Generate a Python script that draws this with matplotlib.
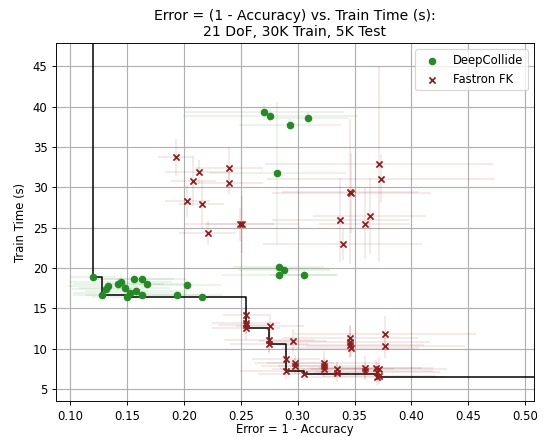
import numpy as np
import matplotlib
matplotlib.use("Agg")
import matplotlib.pyplot as plt

# DeepCollide runs: error, train time, and their spreads
dc_err = [0.2708, 0.2761, 0.2930, 0.3091, 0.2822, 0.2835, 0.2883, 0.2835, 0.3059,
          0.1202, 0.1278, 0.1313, 0.1331, 0.1424, 0.1442, 0.1477, 0.1495, 0.1524,
          0.1561, 0.1576, 0.1629, 0.1629, 0.1679, 0.1939, 0.2026, 0.2158]
dc_time = [39.28, 38.86, 37.71, 38.58, 31.73, 20.14, 19.77, 19.15, 19.15,
           18.86, 16.63, 17.38, 17.75, 18.03, 18.24, 17.54, 16.39, 16.96,
           18.61, 17.21, 18.61, 16.71, 18.07, 16.71, 17.91, 16.46]
dc_err_sd = [0.070, 0.077, 0.045, 0.035, 0.060, 0.040, 0.040, 0.050, 0.030,
             0.020, 0.025, 0.030, 0.035, 0.040, 0.045, 0.040, 0.030, 0.050,
             0.035, 0.045, 0.040, 0.050, 0.035, 0.040, 0.030, 0.035]
dc_time_sd = [1.0, 0.8, 0.8, 0.8, 8.8, 0.5, 0.5, 0.6, 0.6,
              0.5, 0.5, 0.6, 0.6, 0.8, 0.8, 0.6, 0.5, 0.6,
              0.7, 0.6, 0.6, 0.5, 0.6, 0.5, 0.6, 0.5]

# Fastron FK runs
ff_err = [0.1930, 0.2135, 0.2082, 0.2395, 0.2392, 0.2030, 0.2155, 0.2208, 0.2489, 0.2509,
          0.3717, 0.3732, 0.3460, 0.3471, 0.3375, 0.3632, 0.3588, 0.3395,
          0.2547, 0.2547, 0.2547, 0.2547, 0.2758, 0.2752, 0.2752, 0.2962,
          0.2895, 0.2895, 0.2974, 0.2974, 0.3053, 0.3228, 0.3228, 0.3228,
          0.3345, 0.3345, 0.3458, 0.3460, 0.3462, 0.3465, 0.3594, 0.3594,
          0.3688, 0.3717, 0.3700, 0.3717, 0.3702, 0.3769, 0.3769]
ff_time = [33.71, 31.93, 30.74, 32.43, 30.57, 28.30, 27.90, 24.34, 25.40, 25.40,
           32.88, 31.03, 29.46, 29.30, 25.91, 26.41, 25.50, 22.95,
           14.15, 13.20, 12.90, 12.60, 12.87, 11.10, 10.60, 11.00,
           8.80, 7.30, 8.30, 7.85, 6.86, 8.30, 7.90, 7.50,
           7.50, 7.05, 11.30, 10.90, 10.50, 10.15, 7.60, 7.30,
           7.60, 7.45, 7.15, 6.70, 6.52, 11.90, 10.40]
ff_err_sd = [0.016, 0.030, 0.020, 0.030, 0.030, 0.020, 0.020, 0.025, 0.030, 0.050,
             0.100, 0.100, 0.060, 0.070, 0.060, 0.050, 0.040, 0.070,
             0.020, 0.030, 0.025, 0.030, 0.030, 0.040, 0.035, 0.030,
             0.030, 0.040, 0.035, 0.030, 0.040, 0.050, 0.040, 0.045,
             0.050, 0.040, 0.060, 0.070, 0.065, 0.060, 0.050, 0.060,
             0.050, 0.060, 0.055, 0.050, 0.060, 0.080, 0.070]
ff_time_sd = [2.3, 1.5, 3.0, 2.5, 1.5, 2.0, 3.0, 1.5, 2.0, 3.5,
              12.0, 3.0, 9.0, 5.0, 5.2, 4.7, 4.4, 2.0,
              1.0, 1.2, 1.0, 1.5, 1.5, 1.5, 1.2, 1.5,
              1.2, 1.0, 1.0, 1.0, 0.8, 1.5, 1.0, 1.0,
              1.0, 1.2, 1.5, 2.0, 1.5, 1.0, 1.5, 1.0,
              1.0, 1.5, 1.2, 1.0, 1.0, 2.2, 1.5]

green = "#228b22"
red = "#921c1c"

fig = plt.figure(figsize=(549 / 84, 437 / 84), dpi=84)
ax = fig.add_axes([0.1015, 0.0831, 0.8706, 0.8174])

ax.grid(True, color="#b0b0b0", linewidth=1.0, zorder=0)
ax.set_axisbelow(True)

ax.errorbar(dc_err, dc_time, xerr=dc_err_sd, yerr=dc_time_sd, fmt="none",
            ecolor=green, alpha=0.1, elinewidth=1.5, zorder=1)
ax.errorbar(ff_err, ff_time, xerr=ff_err_sd, yerr=ff_time_sd, fmt="none",
            ecolor=red, alpha=0.1, elinewidth=1.5, zorder=1)

ax.scatter(dc_err, dc_time, s=30, marker="o", color=green, label="DeepCollide", zorder=3)
ax.scatter(ff_err, ff_time, s=28, marker="x", color=red, linewidths=1.5,
           label="Fastron FK", zorder=3)

# Pareto frontier over all runs: lowest train time reachable at each error level
all_err = np.array(dc_err + ff_err)
all_time = np.array(dc_time + ff_time)
order = np.lexsort((all_time, all_err))
front_x, front_y = [], []
best = np.inf
for i in order:
    if all_time[i] < best:
        best = all_time[i]
        front_x.append(all_err[i])
        front_y.append(all_time[i])
front_x = [front_x[0]] + front_x + [1.0]
front_y = [1000.0] + front_y + [front_y[-1]]
ax.plot(front_x, front_y, drawstyle="steps-post", color="black", linewidth=1.3, zorder=2)

ax.set_xlim(0.0872, 0.5076)
ax.set_ylim(3.59, 47.8)
ax.set_xticks(np.arange(0.10, 0.501, 0.05))
ax.set_yticks(np.arange(5, 46, 5))
ax.tick_params(axis="x", pad=4.5)

ax.set_title("Error = (1 - Accuracy) vs. Train Time (s):\n21 DoF, 30K Train, 5K Test", fontsize=12)
ax.set_xlabel("Error = 1 - Accuracy", labelpad=0)
ax.set_ylabel("Train Time (s)", labelpad=5)
ax.legend(loc="upper right")

fig.savefig("out.png", dpi=84)
